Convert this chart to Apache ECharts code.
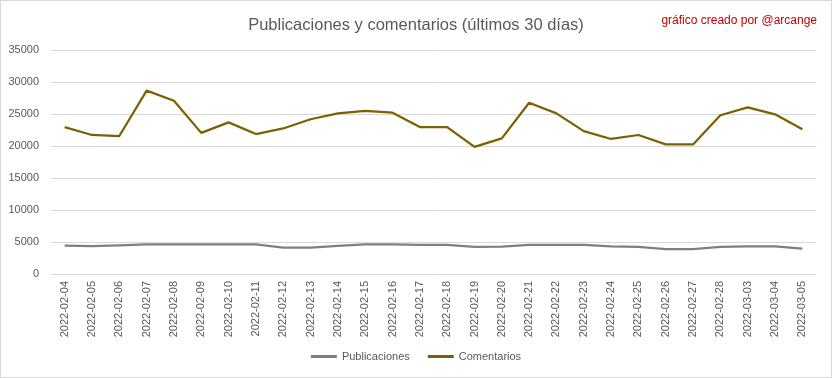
<!DOCTYPE html>
<html>
<head>
<meta charset="utf-8">
<script src="https://cdn.jsdelivr.net/npm/echarts@6/dist/echarts.min.js"></script>
<style>
  html, body { margin: 0; padding: 0; background: #fff; }
  #main { width: 832px; height: 378px; box-sizing: border-box; border: 1px solid #d9d9d9; }
</style>
</head>
<body>
<div id="main"></div>
<script>
// fechas (eje x)
const dias = [
  "2022-02-04", "2022-02-05", "2022-02-06", "2022-02-07", "2022-02-08", "2022-02-09", "2022-02-10",
  "2022-02-11", "2022-02-12", "2022-02-13", "2022-02-14", "2022-02-15", "2022-02-16", "2022-02-17",
  "2022-02-18", "2022-02-19", "2022-02-20", "2022-02-21", "2022-02-22", "2022-02-23", "2022-02-24",
  "2022-02-25", "2022-02-26", "2022-02-27", "2022-02-28", "2022-03-03", "2022-03-04", "2022-03-05"
];
const publicaciones = [
  4440, 4340, 4490, 4640, 4640, 4640, 4640, 4640, 4130, 4130, 4390, 4640, 4640, 4540,
  4540, 4230, 4280, 4540, 4540, 4540, 4330, 4230, 3880, 3880, 4230, 4330, 4330, 3980
];
const comentarios = [
  22950, 21720, 21560, 28650, 27080, 22050, 23690, 21870, 22740, 24180, 25100, 25500, 25200, 22950,
  22950, 19870, 21200, 26750, 25100, 22330, 21100, 21720, 20250, 20250, 24800, 26030, 24950, 22600
];

const txt = "#595959";
const grid = "#d9d9d9";

const myChart = echarts.init(document.getElementById("main"));
myChart.setOption({
  animation: false,
  textStyle: { fontFamily: "Liberation Sans, Arial, sans-serif" },
  title: [
    {
      text: "Publicaciones y comentarios (últimos 30 días)",
      left: "center",
      top: 11,
      textStyle: { color: txt, fontSize: 16.5, fontWeight: "normal" }
    },
    {
      text: "gráfico creado por @arcange",
      right: 9,
      top: 9,
      textStyle: { color: "#c00000", fontSize: 12, fontWeight: "normal" }
    }
  ],
  legend: {
    bottom: 10,
    left: "center",
    icon: "rect",
    itemWidth: 26,
    itemHeight: 3,
    itemGap: 18,
    textStyle: { color: txt, fontSize: 11 },
    data: ["Publicaciones", "Comentarios"]
  },
  grid: { left: 50, right: 15, top: 49, bottom: 103 },
  xAxis: {
    type: "category",
    data: dias,
    boundaryGap: true,
    axisLine: { lineStyle: { color: grid } },
    axisTick: { show: false },
    axisLabel: { rotate: 90, color: txt, fontSize: 11, margin: 7 }
  },
  yAxis: {
    type: "value",
    min: 0,
    max: 35000,
    interval: 5000,
    axisLine: { show: false },
    axisTick: { show: false },
    axisLabel: { color: txt, fontSize: 11, margin: 12, formatter: (v) => String(v) },
    splitLine: { lineStyle: { color: grid } }
  },
  series: [
    {
      name: "Publicaciones",
      type: "line",
      data: publicaciones,
      symbol: "none",
      lineStyle: { color: "#7f7f7f", width: 2.25 },
      itemStyle: { color: "#7f7f7f" }
    },
    {
      name: "Comentarios",
      type: "line",
      data: comentarios,
      symbol: "none",
      lineStyle: { color: "#7f6000", width: 2.25 },
      itemStyle: { color: "#7f6000" }
    }
  ]
});
</script>
</body>
</html>
